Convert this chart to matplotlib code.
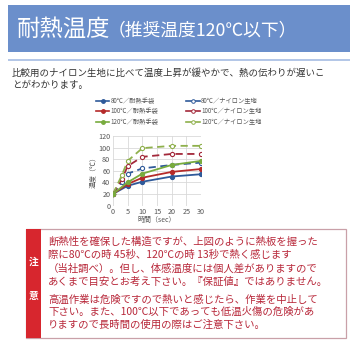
import matplotlib
matplotlib.use("Agg")
import matplotlib.pyplot as plt
from matplotlib.patches import Rectangle
from matplotlib.lines import Line2D

plt.rcParams['font.family'] = ['Noto Sans CJK JP', 'DejaVu Sans']

# ---- data ----
t_glove = [0, 5, 10, 20, 30]
glove_80 = [20, 34, 41, 50, 54]
glove_100 = [20, 37, 48, 58, 63]
glove_120 = [20, 40, 55, 70, 77]

t_nylon = [0, 3, 5, 10, 20, 30]
nylon_80 = [20, 40, 55, 64, 70, 74]
nylon_100 = [20, 45, 68, 84, 89, 89]
nylon_120 = [20, 52, 77, 99, 103, 103]

legend_glove = ["80℃／耐熱手袋", "100℃／耐熱手袋", "120℃／耐熱手袋"]
legend_nylon = ["80℃／ナイロン生地", "100℃／ナイロン生地", "120℃／ナイロン生地"]
x_ticks = [0, 5, 10, 15, 20, 25, 30]
y_ticks = [0, 20, 40, 60, 80, 100, 120]

title_main = "耐熱温度"
title_sub = "（推奨温度120℃以下）"
body_lines = ["比較用のナイロン生地に比べて温度上昇が緩やかで、熱の伝わりが遅いこ",
              "とがわかります。"]
note_p1 = ["断熱性を確保した構造ですが、上図のように熱板を握った",
           "際に80℃の時 45秒、120℃の時 13秒で熱く感じます",
           "（当社調べ）。但し、体感温度には個人差がありますので",
           "あくまで目安とお考え下さい。『保証値』ではありません。"]
note_p2 = ["高温作業は危険ですので熱いと感じたら、作業を中止して",
           "下さい。また、100℃以下であっても低温火傷の危険があ",
           "りますので長時間の使用の際はご注意下さい。"]

# ---- styles ----
W = H = 350
c_blue = "#2F5A9A"
c_red = "#B52A2A"
c_green = "#78AB3E"
c_nblue = "#2F5A9A"
c_nred = "#A3283A"
c_ngreen = "#8FB04C"
note_red = "#B8283A"

fig = plt.figure(figsize=(3.5, 3.5), dpi=100)
fig.patch.set_facecolor("white")

def fx(x):
    return x / W

def fy(y):
    return 1 - y / H

def frect(x0, y0, x1, y1, **kw):
    fig.patches.append(Rectangle((fx(x0), fy(y1)), fx(x1) - fx(x0), fy(y0) - fy(y1),
                                 transform=fig.transFigure, **kw))

# header banner
frect(8, 5, 352, 52, facecolor="#6B8FCB", edgecolor="none")
frect(8, 58.5, 352, 60.5, facecolor="#B4C7E7", edgecolor="none")
fig.text(fx(17), fy(29), title_main, color="white", fontsize=16.8, va="center", ha="left")
fig.text(fx(108), fy(30), title_sub, color="white", fontsize=12.8, va="center", ha="left")

# body text
for i, line in enumerate(body_lines):
    fig.text(fx(12), fy(73 + i * 12.5), line, color="#333333", fontsize=6.8, va="center", ha="left")

# chart
ax = fig.add_axes([fx(113), fy(205.5), (201 - 113) / W, (205.5 - 136) / H])
ax.plot(t_glove, glove_80, color=c_blue, lw=1.3, marker="o", ms=2.8, zorder=5)
ax.plot(t_glove, glove_100, color=c_red, lw=1.3, marker="o", ms=2.8, zorder=5)
ax.plot(t_glove, glove_120, color=c_green, lw=1.3, marker="o", ms=2.8, zorder=5)
for ys, c in [(nylon_80, c_nblue), (nylon_100, c_nred), (nylon_120, c_ngreen)]:
    ax.plot(t_nylon, ys, color=c, lw=1.3, ls=(0, (4, 2.5)), marker="o", ms=3,
            mfc="white", mec=c, mew=0.8, zorder=4)
ax.set_xlim(0, 30)
ax.set_ylim(0, 120)
ax.set_xticks(x_ticks)
ax.set_yticks(y_ticks)
ax.grid(True, color="#D9D9D9", lw=0.6)
ax.set_axisbelow(True)
for s in ax.spines.values():
    s.set_visible(False)
ax.tick_params(length=0, labelsize=5.2, colors="#555555", pad=2)
ax.set_xlabel("時間（sec）", fontsize=5, color="#555555", labelpad=0)
ax.set_ylabel("温度（℃）", fontsize=5, color="#555555", labelpad=1)

# legend (two columns)
rows = [101, 111.5, 122]
glove_cols = [c_blue, c_red, c_green]
nylon_cols = [c_nblue, c_nred, c_ngreen]
for i in range(3):
    y = fy(rows[i])
    fig.lines.append(Line2D([fx(96), fx(109)], [y, y], color=glove_cols[i], lw=1.2,
                            transform=fig.transFigure))
    fig.lines.append(Line2D([fx(102.5)], [y], color=glove_cols[i], lw=0,
                            marker="o", ms=2.5, transform=fig.transFigure))
    fig.text(fx(110.5), y, legend_glove[i], fontsize=4.5, color="#555555", va="center", ha="left")
    fig.lines.append(Line2D([fx(186), fx(200)], [y, y], color=nylon_cols[i], lw=1.2,
                            transform=fig.transFigure))
    fig.lines.append(Line2D([fx(193)], [y], color=nylon_cols[i], lw=0, marker="o", ms=2.6,
                            mfc="white", mec=nylon_cols[i], mew=0.7, transform=fig.transFigure))
    fig.text(fx(201), y, legend_nylon[i], fontsize=4.5, color="#555555", va="center", ha="left")

# note box
frect(26, 229, 346, 338, facecolor="white", edgecolor="#C9A0A8", lw=0.9)
frect(26, 229, 41, 338, facecolor="#D7262E", edgecolor="none")
fig.text(fx(33.5), fy(262), "注", color="white", fontsize=7, fontweight="bold", ha="center", va="center")
fig.text(fx(33.5), fy(296), "意", color="white", fontsize=7, fontweight="bold", ha="center", va="center")
for i, line in enumerate(note_p1):
    fig.text(fx(48), fy(242 + i * 13.4), line, color=note_red, fontsize=7.5, va="center", ha="left")
for i, line in enumerate(note_p2):
    fig.text(fx(48), fy(299.5 + i * 12.6), line, color=note_red, fontsize=7.5, va="center", ha="left")

fig.savefig("out.png", dpi=100, facecolor="white")
